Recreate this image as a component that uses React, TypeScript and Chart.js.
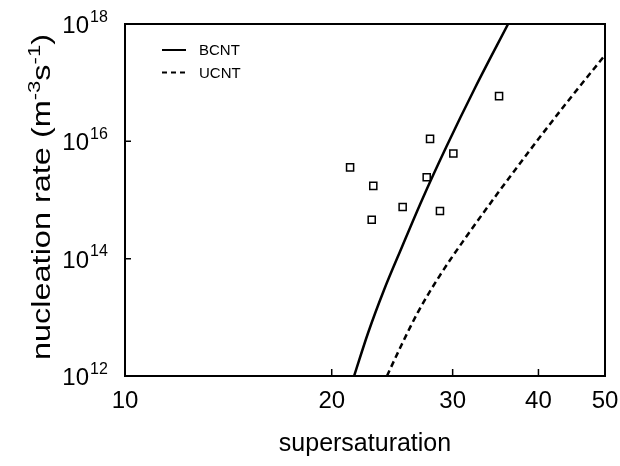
import React, { useEffect, useRef } from "react";
import { Chart, registerables } from "chart.js";

Chart.register(...registerables);

// Bulk classical nucleation theory (BCNT) curve: supersaturation vs. rate (m^-3 s^-1)
const S_BCNT = [21.56, 22.59, 23.84, 25.31, 27.07, 29.35, 32.33, 36.13];
const J_BCNT = [1.0e12, 5.4e12, 2.95e13, 1.58e14, 1.0e15, 7.9e15, 8.1e16, 1.0e18];

// Uncorrected classical nucleation theory (UCNT) curve
const S_UCNT = [24.07, 25.15, 26.71, 28.75, 31.38, 34.82, 38.89, 43.87, 50.0];
const J_UCNT = [1.0e12, 3.0e12, 1.23e13, 5.2e13, 2.34e14, 1.26e15, 7.1e15, 4.4e16, 2.95e17];

// Measured nucleation rates
const S_MEAS = [21.27, 22.99, 22.87, 25.37, 27.5, 27.81, 30.07, 28.75, 35.05];
const J_MEAS = [3.6e15, 1.74e15, 4.6e14, 7.6e14, 2.45e15, 1.1e16, 6.2e15, 6.5e14, 5.9e16];

// Axis ticks
const X_TICKS = [10, 20, 30, 40, 50];
const Y_TICK_EXPONENTS = [12, 14, 16, 18];

const X_TITLE = "supersaturation";
const Y_TITLE_PARTS: [string, boolean][] = [
  ["nucleation rate (m", false],
  ["-3", true],
  ["s", false],
  ["-1", true],
  [")", false],
];
const LEGEND_LABELS = ["BCNT", "UCNT"];

const FONT = '"Liberation Sans", Arial, Helvetica, sans-serif';

const toPoints = (xs: number[], ys: number[]) => xs.map((x, i) => ({ x, y: ys[i] }));

const framePlugin = {
  id: "frameAndLabels",
  afterDraw(chart: any) {
    const { ctx, chartArea: a, scales } = chart;
    const x = scales.x;
    const y = scales.y;
    ctx.save();
    ctx.strokeStyle = "#000";
    ctx.fillStyle = "#000";

    // plot frame
    ctx.lineWidth = 2;
    ctx.strokeRect(a.left, a.top, a.right - a.left, a.bottom - a.top);

    // inward tick marks
    ctx.lineWidth = 1.5;
    ctx.beginPath();
    X_TICKS.slice(1, -1).forEach((v) => {
      const px = x.getPixelForValue(v);
      ctx.moveTo(px, a.bottom);
      ctx.lineTo(px, a.bottom - 7);
    });
    Y_TICK_EXPONENTS.slice(1, -1).forEach((e) => {
      const py = y.getPixelForValue(Math.pow(10, e));
      ctx.moveTo(a.left, py);
      ctx.lineTo(a.left + 6, py);
    });
    ctx.stroke();

    // x tick labels
    ctx.font = `24px ${FONT}`;
    ctx.textAlign = "center";
    ctx.textBaseline = "alphabetic";
    X_TICKS.forEach((v) => {
      ctx.fillText(String(v), x.getPixelForValue(v), a.bottom + 32);
    });

    // y tick labels as powers of ten
    Y_TICK_EXPONENTS.forEach((e) => {
      const py = y.getPixelForValue(Math.pow(10, e));
      ctx.font = `24px ${FONT}`;
      ctx.textAlign = "right";
      ctx.fillText("10", a.left - 36, py + 9);
      ctx.font = `16px ${FONT}`;
      ctx.textAlign = "left";
      ctx.fillText(String(e), a.left - 35, py - 2.5);
    });

    // x axis title
    ctx.font = `25px ${FONT}`;
    ctx.textAlign = "center";
    ctx.fillText(X_TITLE, (a.left + a.right) / 2, a.bottom + 75);

    // y axis title with superscripts, drawn rotated
    const mainFont = `25px ${FONT}`;
    const supFont = `17px ${FONT}`;
    let total = 0;
    const widths = Y_TITLE_PARTS.map(([t, sup]) => {
      ctx.font = sup ? supFont : mainFont;
      const w = ctx.measureText(t).width;
      total += w;
      return w;
    });
    const span = 326;
    const stretch = span / total;
    ctx.save();
    ctx.translate(50, (a.top + a.bottom) / 2 - 3);
    ctx.rotate(-Math.PI / 2);
    ctx.scale(stretch, 1);
    ctx.textAlign = "left";
    let cx = -total / 2;
    Y_TITLE_PARTS.forEach(([t, sup], i) => {
      ctx.font = sup ? supFont : mainFont;
      ctx.fillText(t, cx, sup ? -10 : 0);
      cx += widths[i];
    });
    ctx.restore();

    // legend
    ctx.lineWidth = 2;
    ctx.font = `15px ${FONT}`;
    ctx.textAlign = "left";
    ctx.textBaseline = "middle";
    const lx = a.left + 37;
    const ly = a.top + 26;
    LEGEND_LABELS.forEach((label, i) => {
      const yy = ly + i * 22.5;
      ctx.setLineDash(i === 0 ? [] : [5, 4]);
      ctx.beginPath();
      ctx.moveTo(lx, yy);
      ctx.lineTo(lx + 24, yy);
      ctx.stroke();
      ctx.setLineDash([]);
      ctx.fillText(label, lx + 37, yy + 1);
    });

    ctx.restore();
  },
};

export default function App() {
  const canvasRef = useRef<HTMLCanvasElement | null>(null);

  useEffect(() => {
    const canvas = canvasRef.current;
    if (!canvas) return;
    const chart = new Chart(canvas, {
      type: "scatter",
      data: {
        datasets: [
          {
            label: LEGEND_LABELS[0],
            data: toPoints(S_BCNT, J_BCNT),
            showLine: true,
            borderColor: "#000",
            borderWidth: 2.5,
            pointRadius: 0,
            cubicInterpolationMode: "monotone",
          },
          {
            label: LEGEND_LABELS[1],
            data: toPoints(S_UCNT, J_UCNT),
            showLine: true,
            borderColor: "#000",
            borderWidth: 2.5,
            borderDash: [6, 4],
            pointRadius: 0,
            cubicInterpolationMode: "monotone",
          },
          {
            label: "measured",
            data: toPoints(S_MEAS, J_MEAS),
            showLine: false,
            pointStyle: "rect",
            pointRadius: 5,
            borderColor: "#000",
            backgroundColor: "#fff",
            borderWidth: 1.5,
          },
        ],
      },
      options: {
        responsive: false,
        animation: false,
        devicePixelRatio: 1,
        layout: { padding: { left: 125, right: 15, top: 24, bottom: 90 } },
        plugins: {
          legend: { display: false },
          tooltip: { enabled: false },
        },
        scales: {
          x: { type: "logarithmic", min: 10, max: 50, display: false },
          y: { type: "logarithmic", min: 1e12, max: 1e18, display: false },
        },
      },
      plugins: [framePlugin],
    });
    return () => chart.destroy();
  }, []);

  return (
    <canvas
      ref={canvasRef}
      width={620}
      height={466}
      style={{ position: "absolute", left: 0, top: 0, background: "#fff" }}
    />
  );
}
